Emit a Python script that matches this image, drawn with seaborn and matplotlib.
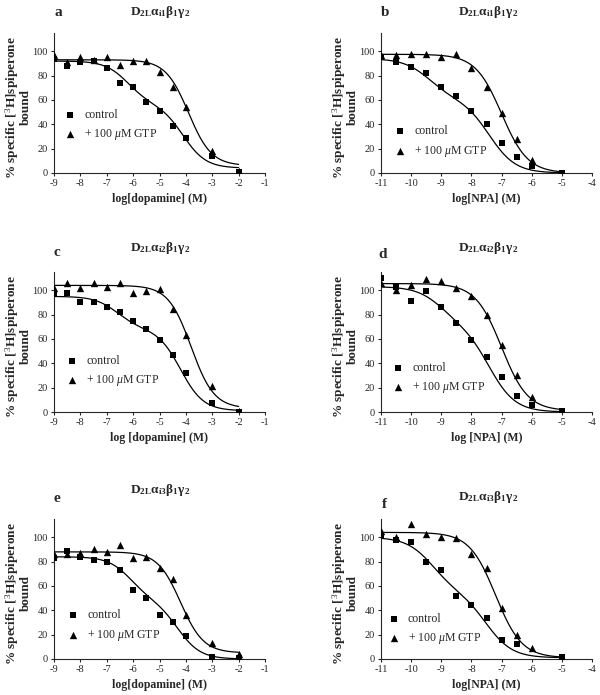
import numpy as np
import pandas as pd
import matplotlib
matplotlib.use('Agg')
import matplotlib.pyplot as plt
import seaborn as sns

# x positions (log molar)
x_dopamine = [-9, -8.5, -8, -7.5, -7, -6.5, -6, -5.5, -5, -4.5, -4, -3, -2]
x_npa = [-11, -10.5, -10, -9.5, -9, -8.5, -8, -7.5, -7, -6.5, -6, -5]

# % specific [3H]spiperone bound
a_control = [94, 88, 91, 92, 86, 74, 71, 58, 51, 39, 29, 14, 1]
a_gtp = [97, 91, 95, 93, 95, 89, 92, 92, 83, 71, 54, 18, 2]
b_control = [95, 91, 87, 82, 71, 63, 51, 40, 25, 13, 6, 0.3]
b_gtp = [97, 97, 98, 98, 95, 98, 86, 71, 49, 28, 11, 0.3]
c_control = [97, 98, 90, 90, 86, 82, 75, 68, 59, 47, 32, 7, 0]
c_gtp = [102, 106, 102, 106, 103, 106, 98, 99, 101, 85, 63, 21, 0.5]
d_control = [110, 103, 91, 99, 86, 73, 59, 45, 29, 13, 6, 1]
d_gtp = [106, 100, 104, 109, 108, 102, 95, 80, 55, 30, 12, 1]
e_control = [83, 89, 84, 81, 80, 73, 57, 50, 36, 30, 19, 2, 0.5]
e_gtp = [86, 86, 87, 90, 88, 94, 83, 84, 75, 66, 36, 13, 4]
f_control = [101, 98, 96, 80, 73, 52, 44, 34, 16, 12, np.nan, 1.4]
f_gtp = [105, 100, 111, 103, 100, 99, 86, 75, 42, 20, 9, 1.4]

# fitted curve parameters: top, bottom, high-affinity fraction, logIC50 high, logIC50 low
fit_a_control = (92, 4, 0.40, -6.2, -4.1)
fit_a_gtp = (93, 6, 0.0, -4.0, -3.9)
fit_b_control = (94, 0, 0.35, -9.4, -7.4)
fit_b_gtp = (97.5, 0, 0.0, -7.0, -7.0)
fit_c_control = (95, 1, 0.28, -6.6, -4.2)
fit_c_gtp = (104, 3, 0.0, -3.8, -3.8)
fit_d_control = (103, 0, 0.30, -9.0, -7.4)
fit_d_gtp = (105.5, 1, 0.0, -7.0, -7.0)
fit_e_control = (84, 0, 0.42, -6.1, -4.3)
fit_e_gtp = (88, 5, 0.0, -4.2, -4.2)
fit_f_control = (100, 1, 0.45, -9.3, -7.5)
fit_f_gtp = (104, 1, 0.0, -7.2, -7.2)

titles = [r'$\mathbf{D_{2L}\alpha_{i1}\beta_{1}\gamma_{2}}$',
          r'$\mathbf{D_{2L}\alpha_{i1}\beta_{1}\gamma_{2}}$',
          r'$\mathbf{D_{2L}\alpha_{i2}\beta_{1}\gamma_{2}}$',
          r'$\mathbf{D_{2L}\alpha_{i2}\beta_{1}\gamma_{2}}$',
          r'$\mathbf{D_{2L}\alpha_{i3}\beta_{1}\gamma_{2}}$',
          r'$\mathbf{D_{2L}\alpha_{i3}\beta_{1}\gamma_{2}}$']
letters = ['a', 'b', 'c', 'd', 'e', 'f']
xlabels = ['log[dopamine] (M)', 'log[NPA] (M)', 'log [dopamine] (M)',
           'log [NPA] (M)', 'log[dopamine] (M)', 'log[NPA] (M)']
ylabel = '% specific [$^{3}$H]spiperone\nbound'

sns.set_style('ticks')
plt.rcParams['font.family'] = ['Liberation Serif', 'DejaVu Serif']
plt.rcParams['mathtext.fontset'] = 'custom'
plt.rcParams['mathtext.rm'] = 'Liberation Serif'
plt.rcParams['mathtext.it'] = 'Liberation Serif:italic'
plt.rcParams['mathtext.bf'] = 'Liberation Serif:bold'
plt.rcParams['axes.unicode_minus'] = False


def curve(xs, p):
    top, bottom, frac, ic_hi, ic_lo = p
    xs = np.asarray(xs)
    s = frac / (1 + 10 ** (xs - ic_hi)) + (1 - frac) / (1 + 10 ** (xs - ic_lo))
    return bottom + (top - bottom) * s


panels = [
    (x_dopamine, a_control, a_gtp, fit_a_control, fit_a_gtp),
    (x_npa, b_control, b_gtp, fit_b_control, fit_b_gtp),
    (x_dopamine, c_control, c_gtp, fit_c_control, fit_c_gtp),
    (x_npa, d_control, d_gtp, fit_d_control, fit_d_gtp),
    (x_dopamine, e_control, e_gtp, fit_e_control, fit_e_gtp),
    (x_npa, f_control, f_gtp, fit_f_control, fit_f_gtp),
]

W, H = 600, 695
fig = plt.figure(figsize=(6, 6.95), dpi=100)

# axes boxes in pixels: left, bottom-of-axis (y=0) pixel row
boxes = [(54, 173), (381, 173), (54, 412), (381, 412), (54, 659), (381, 659)]
ax_w, ax_h = 211, 140
legend_pos = [(0.076, 0.34), (0.09, 0.22), (0.085, 0.29), (0.08, 0.24), (0.09, 0.235), (0.06, 0.21)]
title_pos = [(160, 12), (488, 12), (160, 248), (488, 248), (160, 490), (488, 497)]
letter_pos = [(58, 13), (385, 13), (57, 253), (383, 255), (57, 498), (384, 505)]

for i, (xv, ctrl, gtp, pc, pg) in enumerate(panels):
    left, bot = boxes[i]
    ax = fig.add_axes([left / W, (H - bot) / H, ax_w / W, ax_h / H])
    df = pd.DataFrame({'x': xv, 'control': ctrl, 'gtp': gtp})
    xmin, xmax = min(xv), max(xv)
    xs = np.linspace(xmin, xmax, 300)

    sns.lineplot(x=xs, y=curve(xs, pc), color='black', lw=0.9, ax=ax)
    sns.lineplot(x=xs, y=curve(xs, pg), color='black', lw=0.9, ax=ax)
    sns.scatterplot(data=df.dropna(subset=['control']), x='x', y='control', marker='s',
                    color='black', s=24, linewidth=0, label='control', ax=ax, zorder=3)
    sns.scatterplot(data=df, x='x', y='gtp', marker='^', color='black', s=28,
                    linewidth=0, label=r'+ 100 $\mu$M GTP', ax=ax, zorder=3)

    if xmin == -9:
        ax.set_xlim(-9, -1)
        ax.set_xticks(range(-9, 0))
        ax.set_xticklabels([str(t) for t in range(-9, 0)])
    else:
        ax.set_xlim(-11, -4)
        ax.set_xticks(range(-11, -3))
        ax.set_xticklabels([str(t) for t in range(-11, -3)])
    ax.set_ylim(0, 115)
    ax.set_yticks([0, 20, 40, 60, 80, 100])

    for sp in ['top', 'right']:
        ax.spines[sp].set_visible(False)
    for sp in ['left', 'bottom']:
        ax.spines[sp].set_linewidth(0.8)
    ax.tick_params(direction='out', length=2.5, width=0.8, pad=2, labelsize=7.5)

    ax.set_xlabel(xlabels[i], fontsize=8.5, fontweight='bold', va='top')
    ax.xaxis.set_label_coords(0.5, -0.14)
    ax.set_ylabel(ylabel, fontsize=9.5, fontweight='bold', linespacing=0.9)
    ax.yaxis.set_label_coords(-0.105, 0.47)

    fs_px = 8.5 * 100 / 72
    lx, ly = legend_pos[i]
    ax.legend(loc='center left', bbox_to_anchor=(lx - 0.5 * fs_px / ax_w, ly),
              frameon=False, fontsize=8.5, handlelength=1.0, handletextpad=0.7,
              labelspacing=0.55, borderpad=0, borderaxespad=0, scatterpoints=1)

    tx, ty = title_pos[i]
    fig.text(tx / W, 1 - ty / H, titles[i], fontsize=9.5, ha='center', va='center')
    lx2, ly2 = letter_pos[i]
    fig.text(lx2 / W, 1 - ly2 / H, letters[i], fontsize=11, fontweight='bold',
             ha='center', va='center')

fig.savefig('out.png', dpi=100)
